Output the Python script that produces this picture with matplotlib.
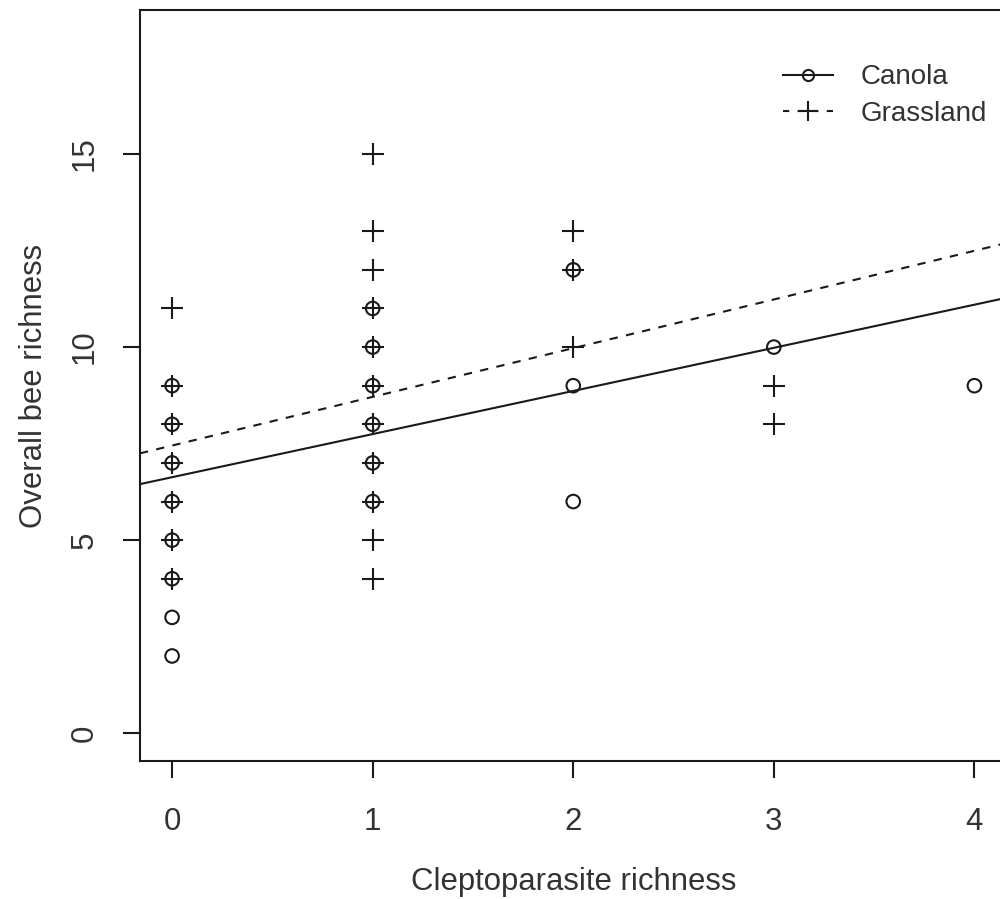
import numpy as np
import matplotlib
matplotlib.use("Agg")
import matplotlib.pyplot as plt
from matplotlib.lines import Line2D

# Cleptoparasite richness vs overall bee richness, per habitat
canola_x = [0, 0, 0, 0, 0, 0, 0, 0, 1, 1, 1, 1, 1, 1, 2, 2, 2, 3, 4]
canola_y = [2, 3, 4, 5, 6, 7, 8, 9, 6, 7, 8, 9, 10, 11, 6, 9, 12, 10, 9]

grass_x = [0, 0, 0, 0, 0, 0, 0, 1, 1, 1, 1, 1, 1, 1, 1, 1, 1, 1, 2, 2, 2, 3, 3]
grass_y = [4, 5, 6, 7, 8, 9, 11, 4, 5, 6, 7, 8, 9, 10, 11, 12, 13, 15, 10, 12, 13, 8, 9]

# fitted lines (intercept, slope)
canola_fit = (6.63, 1.117)
grass_fit = (7.45, 1.261)

x_ticks = [0, 1, 2, 3, 4]
y_ticks = [0, 5, 10, 15]

col = "#1a1a1a"
txt = "#333333"
plt.rcParams["font.family"] = ["Liberation Sans", "DejaVu Sans"]

fig = plt.figure(figsize=(10, 8.99), dpi=100)
ax = fig.add_axes([0.14, (899 - 761) / 899, 0.8665, (761 - 10.4) / 899])

ax.scatter(canola_x, canola_y, marker="o", s=95, facecolors="none",
           edgecolors=col, linewidths=1.5, zorder=3)
ax.scatter(grass_x, grass_y, marker="+", s=230, color=col,
           linewidths=1.5, zorder=3)

ax.axline((0, canola_fit[0]), slope=canola_fit[1], color=col, lw=1.5)
ax.axline((0, grass_fit[0]), slope=grass_fit[1], color=col, lw=1.5,
          linestyle=(0, (4, 4)))

ax.set_xlim(-0.16, 4.16)
ax.set_ylim(-0.72, 18.72)
ax.set_xticks(x_ticks)
ax.set_yticks(y_ticks)
ax.tick_params(axis="both", direction="out", length=12, width=1.5,
               color=col, labelsize=22.5, labelcolor=txt)
ax.tick_params(axis="x", pad=21)
ax.tick_params(axis="y", pad=17)
for lab in ax.get_yticklabels():
    lab.set_rotation(90)
    lab.set_va("center")
for sp in ax.spines.values():
    sp.set_linewidth(1.5)
    sp.set_color(col)

ax.set_xlabel("Cleptoparasite richness", fontsize=22.4, color=txt, labelpad=22)
ax.set_ylabel("Overall bee richness", fontsize=22.4, color=txt, labelpad=15)

handles = [
    Line2D([], [], color=col, lw=1.5, marker="o", markersize=8,
           markerfacecolor="none", markeredgewidth=1.5),
    Line2D([], [], color=col, lw=1.5, linestyle=(0, (3, 4)), marker="+",
           markersize=15, markeredgewidth=1.5),
]
ax.legend(handles, ["Canola", "Grassland"], loc="upper left",
          bbox_to_anchor=(0.742, 0.928), frameon=False, fontsize=20,
          handlelength=1.8, handletextpad=1.0, labelspacing=0.38,
          borderpad=0, borderaxespad=0, labelcolor=txt)

fig.savefig("out.png", dpi=100)
